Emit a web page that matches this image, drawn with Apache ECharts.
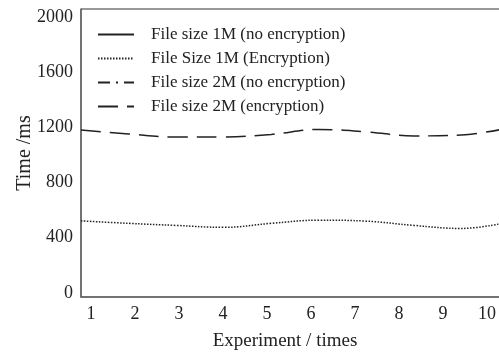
<!DOCTYPE html>
<html>
<head>
<meta charset="utf-8">
<script src="https://cdn.jsdelivr.net/npm/echarts@6/dist/echarts.min.js"></script>
<style>
  html, body { margin: 0; padding: 0; background: #fff; }
  #chart { width: 499px; height: 353px; }
</style>
</head>
<body>
<div id="chart"></div>
<script>
// experiment index, tick labels
const experiments = [1, 2, 3, 4, 5, 6, 7, 8, 9, 10]
const yTicks = [0, 400, 800, 1200, 1600, 2000]

// time in ms
const size1mPlain = []
const size1mEnc = [522, 504, 489, 475, 504, 527, 520, 489, 467, 514]
const size2mPlain = []
const size2mEnc = [1181, 1152, 1130, 1130, 1149, 1185, 1167, 1138, 1145, 1196]

const font = 'Liberation Serif'
const ink = '#222'

const chart = echarts.init(document.getElementById('chart'))

const seriesBase = {
  type: 'line',
  smooth: 0.4,
  symbol: 'none',
  xAxisIndex: 1,
  color: '#222',
}

function pairs(vals) {
  return vals.map((v, i) => [experiments[i], v])
}

chart.setOption({
  animation: false,
  backgroundColor: '#fff',
  textStyle: { fontFamily: font, color: ink },
  grid: {
    left: 81, top: 9, right: -10, bottom: 56,
    outerBoundsMode: 'none',
    containLabel: false,
    show: true, borderColor: '#333', borderWidth: 1,
  },
  legend: {
    orient: 'vertical',
    left: 97, top: 26, padding: 0,
    itemWidth: 36, itemHeight: 14, itemGap: 7,
    itemStyle: { opacity: 0 },
    textStyle: { fontFamily: font, fontSize: 17, color: ink, padding: [0, 0, 0, 12] },
    data: [
      'File size 1M (no encryption)',
      'File Size 1M (Encryption)',
      'File size 2M (no encryption)',
      'File size 2M (encryption)',
    ],
  },
  xAxis: [
    {
      type: 'value',
      min: 0.773, max: 10.5,
      name: 'Experiment / times',
      nameLocation: 'middle',
      nameGap: 35,
      nameMoveOverlap: false,
      nameTextStyle: { fontFamily: font, fontSize: 19, color: ink, padding: [0, 20, 0, 0] },
      axisLine: { show: true, onZero: false, lineStyle: { color: '#666', width: 1.5 } },
      axisTick: { show: false },
      splitLine: { show: false },
      axisLabel: {
        customValues: experiments,
        margin: 8,
        fontFamily: font, fontSize: 18, color: ink,
      },
    },
    {
      type: 'value',
      min: experiments[0], max: experiments[experiments.length - 1],
      show: false,
    },
  ],
  yAxis: {
    type: 'value',
    min: -30, max: 2058,
    name: 'Time /ms',
    nameLocation: 'middle',
    nameGap: 46,
    nameMoveOverlap: false,
    nameTextStyle: { fontFamily: font, fontSize: 20, color: ink },
    axisLine: { show: true, onZero: false, lineStyle: { color: '#666', width: 1.5 } },
    axisTick: { show: false },
    splitLine: { show: false },
    axisLabel: {
      customValues: yTicks,
      formatter: v => String(v),
      margin: 8,
      fontFamily: font, fontSize: 18, color: ink,
    },
  },
  series: [
    { ...seriesBase, name: 'File size 1M (no encryption)', data: pairs(size1mPlain), lineStyle: { width: 1.2, type: 'solid' } },
    { ...seriesBase, name: 'File Size 1M (Encryption)', data: pairs(size1mEnc), lineStyle: { width: 1.5, type: [1.5, 1.5] } },
    { ...seriesBase, name: 'File size 2M (no encryption)', data: pairs(size2mPlain), lineStyle: { width: 1.2, type: [12, 6, 2, 6] } },
    { ...seriesBase, name: 'File size 2M (encryption)', data: pairs(size2mEnc), lineStyle: { width: 1.5, type: [20, 9] } },
  ],
})
</script>
</body>
</html>
